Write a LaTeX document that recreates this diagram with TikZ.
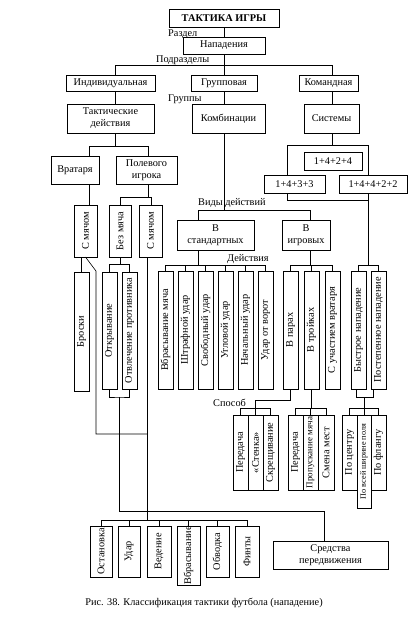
\documentclass[tikz,border=0pt]{standalone}
\usepackage{fontspec}
\setmainfont{Liberation Serif}
\usepackage{graphicx}
\tikzset{
 bx/.style={draw, line width=0.6pt, inner sep=0pt, outer sep=0pt, align=center},
 lbl/.style={anchor=west, inner sep=0pt},
 ln/.style={line width=0.6pt},
}
\newcommand\mybox[7][]{\node[bx,#1,minimum width={#4-#2},minimum height={#5-#3}] (#6) at ({(#2+#4)/2},{(#3+#5)/2}) {#7};}
\newcommand\myrbox[7][]{\mybox[#1]{#2}{#3}{#4}{#5}{#6}{\rotatebox{90}{#7}}}
\begin{document}
\begin{tikzpicture}[x=1pt,y=-1pt,font=\fontsize{10.3}{12}\selectfont]
\fill[white] (0,0) rectangle (411,622);
\useasboundingbox (0,0) rectangle (411,622);

\mybox[font=\bfseries\fontsize{10.3}{12}\selectfont]{169}{9}{279}{27}{title}{ТАКТИКА ИГРЫ}
\mybox{183}{37}{265}{54}{nap}{Нападения}
\mybox{66}{75}{155}{91}{ind}{Индивидуальная}
\mybox{191}{75}{257}{91}{grp}{Групповая}
\mybox{299}{75}{358}{91}{kom}{Командная}
\mybox{67}{104}{154}{133}{tak}{Тактические\\действия}
\mybox{192}{104}{265}{133}{komb}{Комбинации}
\mybox{304}{104}{359}{133}{sys}{Системы}
\mybox{51}{156}{99}{184}{vrat}{Вратаря}
\mybox{116}{156}{177}{184}{pol}{Полевого\\игрока}
\mybox{304}{152}{362}{170}{sa}{1+4+2+4}
\mybox{264}{175}{325}{193}{sb}{1+4+3+3}
\mybox{339}{175}{407}{193}{sc}{1+4+4+2+2}
\myrbox{74}{205}{97}{257}{cma}{С мячом}
\myrbox{109}{205}{131}{257}{bm}{Без мяча}
\myrbox{139}{205}{162}{257}{cmb}{С мячом}
\mybox{177}{220}{254}{250}{vst}{В\\стандартных}
\mybox{282}{220}{330}{250}{vig}{В\\игровых}
\myrbox{74}{272}{89}{391}{bro}{Броски}
\myrbox{102}{272}{117}{389}{otk}{Открывание}
\myrbox{122}{272}{137}{389}{otv}{Отвлечение противника}
\myrbox{158}{271}{173}{389}{a1}{Вбрасывание мяча}
\myrbox{178}{271}{193}{389}{a2}{Штрафной удар}
\myrbox{198}{271}{213}{389}{a3}{Свободный удар}
\myrbox{218}{271}{233}{389}{a4}{Угловой удар}
\myrbox{238}{271}{253}{389}{a5}{Начальный удар}
\myrbox{258}{271}{273}{389}{a6}{Удар от ворот}
\myrbox{283}{271}{298}{389}{g1}{В парах}
\myrbox{304}{271}{319}{389}{g2}{В тройках}
\myrbox{325}{271}{340}{389}{g3}{С участием вратаря}
\myrbox{351}{271}{366}{389}{bys}{Быстрое нападение}
\myrbox{371}{271}{386}{389}{pos}{Постепенное нападение}
\myrbox{233}{415}{248}{490}{m1}{Передача}
\myrbox{248}{415}{263}{490}{m2}{«Стенка»}
\myrbox{263}{415}{278}{490}{m3}{Скрещивание}
\myrbox{288}{415}{303}{490}{t1}{Передача}
\myrbox[font=\fontsize{9}{10}\selectfont]{303}{415}{318}{490}{t2}{Пропускание мяча}
\myrbox{318}{415}{334}{490}{t3}{Смена мест}
\myrbox{342}{415}{357}{490}{p1}{По центру}
\myrbox[font=\fontsize{8.2}{9}\selectfont]{357}{415}{371}{508}{p2}{По всей ширине поля}
\myrbox{371}{415}{386}{490}{p3}{По флангу}
\myrbox{90}{526}{112}{577}{e1}{Остановка}
\myrbox{118}{526}{140}{577}{e2}{Удар}
\myrbox{147}{526}{171}{577}{e3}{Ведение}
\myrbox{177}{526}{200}{585}{e4}{Вбрасывание}
\myrbox{206}{526}{229}{577}{e5}{Обводка}
\myrbox{235}{526}{259}{577}{e6}{Финты}
\mybox{273}{541}{388}{569}{sred}{Средства\\передвижения}

\node[lbl] (l1) at (168,34) {Раздел};
\node[lbl] (l2) at (156,60) {Подразделы};
\node[lbl] (l3) at (168,99) {Группы};
\node[lbl] (l4) at (198,203) {Виды действий};
\node[lbl] (l5) at (227,259) {Действия};
\node[lbl] (l6) at (213,403) {Способ};
\node (cap) at (204,603) {Рис. 38. Классификация тактики футбола (нападение)};

% top levels
\coordinate (c1) at (115,65);
\coordinate (c2) at (332,65);
\draw[ln] (title.south) -- (nap.north);
\draw[ln] (nap.south) -- (grp.north);
\draw[ln] (ind.north -| c1) -- (c1) -- (c2) -- (kom.north -| c2);
\draw[ln] (ind.south -| c1) -- (tak.north -| c1);
\draw[ln] (grp.south) -- (grp.south |- komb.north);
\draw[ln] (kom.south -| c2) -- (sys.north -| c2);

% individual
\coordinate (c3) at (89,146);
\coordinate (c4) at (148,146);
\draw[ln] (tak.south -| c1) -- (c1 |- c3);
\draw[ln] (vrat.north -| c3) -- (c3) -- (c4) -- (pol.north -| c4);
\draw[ln] (vrat.south -| c3) -- (cma.north -| c3);
\coordinate (c5) at (120,197);
\coordinate (c6) at (151,197);
\draw[ln] (pol.south -| c4) -- (c4 |- c5);
\draw[ln] (bm.north -| c5) -- (c5) -- (c6) -- (cmb.north -| c6);
\draw[ln] (bro.north) -- (bro.north |- cma.south);
\coordinate (c7) at (96,271);
\coordinate (c8) at (96,434);
\coordinate (c9) at (147,434);
\draw[ln] (cma.south) -- (c7) -- (c8) -- (c9);
\coordinate (c10) at (147,520);
\draw[ln] (cmb.south -| c10) -- (c10);
\coordinate (c11) at (120,264);
\draw[ln] (bm.south) -- (c11);
\draw[ln] (otk.north) |- (otv.north |- c11) -- (otv.north);
\coordinate (c13) at (119.5,397);
\coordinate (c14) at (119.5,511);
\coordinate (c15) at (324,511);
\draw[ln] (otk.south) |- (c13) -| (otv.south);
\draw[ln] (c13) -- (c14) -- (c15) -- (sred.north -| c15);
\draw[ln] (e1.north) |- (e6.north |- c10) -- (e6.north);
\foreach \n in {e2,e3,e4,e5} \draw[ln] (\n.north) -- (\n.north |- c10);

% group
\coordinate (c0) at (224,210);
\coordinate (c16) at (198,210);
\coordinate (c17) at (310,210);
\draw[ln] (komb.south -| c0) -- (c0);
\draw[ln] (vst.north -| c16) -- (c16) -- (c17) -- (vig.north -| c17);
\coordinate (c18) at (198,265);
\draw[ln] (vst.south -| c18) -- (c18);
\draw[ln] (a1.north) |- (a6.north |- c18) -- (a6.north);
\foreach \n in {a2,a3,a4,a5} \draw[ln] (\n.north) -- (\n.north |- c18);
\coordinate (c19) at (310,265);
\draw[ln] (vig.south -| c19) -- (c19);
\draw[ln] (g1.north) |- (g3.north |- c19) -- (g3.north);
\draw[ln] (g2.north) -- (g2.north |- c19);

% team
\coordinate (c20) at (287,145);
\coordinate (c21) at (368,145);
\draw[ln] (sys.south -| c2) -- (c2 |- c20);
\draw[ln] (sb.north -| c20) -- (c20) -- (c21) -- (sc.north -| c21);
\coordinate (c22) at (287,200);
\coordinate (c23) at (368,200);
\coordinate (c24) at (368,265);
\draw[ln] (sb.south -| c22) -- (c22) -- (c23) -- (sc.south -| c23);
\draw[ln] (c23) -- (c24);
\draw[ln] (bys.north) |- (pos.north |- c24) -- (pos.north);

% methods
\coordinate (c25) at (290.5,400);
\coordinate (c26) at (255.5,400);
\coordinate (c27) at (255.5,408);
\draw[ln] (g1.south) -- (g1.south |- c25) -- (c26) -- (c27);
\draw[ln] (m1.north) |- (m3.north |- c27) -- (m3.north);
\draw[ln] (m2.north) -- (m2.north |- c27);
\coordinate (c28) at (311.5,408);
\draw[ln] (g2.south) -- (c28);
\draw[ln] (t1.north) |- (t3.north |- c28) -- (t3.north);
\draw[ln] (t2.north) -- (t2.north |- c28);
\coordinate (c31) at (356,397);
\coordinate (c32) at (373,397);
\coordinate (c29) at (364,397);
\coordinate (c30) at (364,408);
\draw[ln] (bys.south -| c31) -- (c31) -- (c32) -- (pos.south -| c32);
\draw[ln] (c29) -- (c30);
\draw[ln] (p1.north) |- (p3.north |- c30) -- (p3.north);
\draw[ln] (p2.north) -- (p2.north |- c30);
\end{tikzpicture}
\end{document}
